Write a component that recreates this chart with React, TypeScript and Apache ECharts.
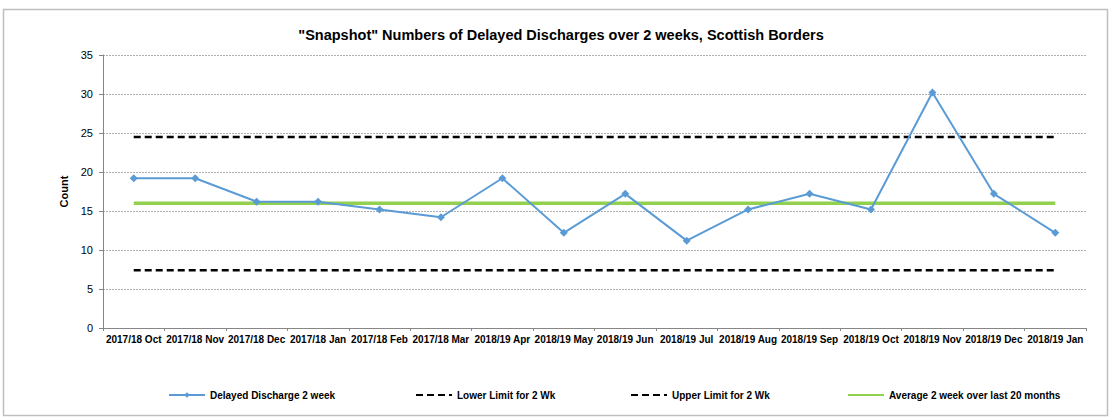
import React, { useEffect, useRef } from "react";
import * as echarts from "echarts";

const categories = [
  "2017/18 Oct", "2017/18 Nov", "2017/18 Dec", "2017/18 Jan", "2017/18 Feb", "2017/18 Mar",
  "2018/19 Apr", "2018/19 May", "2018/19 Jun", "2018/19 Jul", "2018/19 Aug", "2018/19 Sep",
  "2018/19 Oct", "2018/19 Nov", "2018/19 Dec", "2018/19 Jan",
];
const delayed = [19.2, 19.2, 16.2, 16.2, 15.2, 14.2, 19.2, 12.2, 17.2, 11.2, 15.2, 17.2, 15.2, 30.2, 17.2, 12.2];
const lowerLimit = categories.map(() => 7.4);
const upperLimit = categories.map(() => 24.5);
const average = categories.map(() => 16);
const seriesNames = [
  "Delayed Discharge 2 week",
  "Lower Limit for 2 Wk",
  "Upper Limit for 2 Wk",
  "Average 2 week over last 20 months",
];

const FONT = "'Liberation Sans', Arial, sans-serif";

export default function App() {
  const ref = useRef<HTMLDivElement>(null);
  useEffect(() => {
    document.body.style.margin = "0";
    const chart = echarts.init(ref.current!, null, { renderer: "svg" });
    const legendPos = [163, 410, 625, 842];
    chart.setOption({
      animation: false,
      backgroundColor: "#ffffff",
      textStyle: { fontFamily: FONT },
      title: {
        text: '"Snapshot" Numbers of Delayed Discharges over 2 weeks, Scottish Borders',
        left: 556,
        textAlign: "center",
        top: 22,
        textStyle: { fontFamily: FONT, fontSize: 14.5, fontWeight: "bold", color: "#000" },
      },
      legend: seriesNames.map((n, i) => ({
        data: [n],
        left: legendPos[i],
        top: 385,
        itemWidth: 36,
        itemHeight: i === 0 ? 7 : 10,
        itemGap: 5,
        itemStyle: i === 0 ? {} : { opacity: 0 },
        textStyle: { fontFamily: FONT, fontSize: 10, fontWeight: "bold", color: "#000" },
      })),
      grid: { left: 103, right: 23, top: 55, bottom: 89, containLabel: false },
      xAxis: {
        type: "category",
        data: categories,
        boundaryGap: true,
        axisLine: { lineStyle: { color: "#868686", width: 1 } },
        axisTick: { show: true, alignWithLabel: false, length: 3, lineStyle: { color: "#868686" } },
        axisLabel: {
          interval: 0,
          fontFamily: FONT,
          fontSize: 10,
          fontWeight: "bold",
          color: "#000",
          margin: 6,
        },
      },
      yAxis: {
        type: "value",
        min: 0,
        max: 35,
        interval: 5,
        name: "Count",
        nameLocation: "middle",
        nameGap: 27,
        nameTextStyle: { fontFamily: FONT, fontSize: 11, fontWeight: "bold", color: "#000" },
        axisLine: { show: true, lineStyle: { color: "#868686", width: 1 } },
        axisTick: { show: true, length: 4, lineStyle: { color: "#868686" } },
        axisLabel: { fontFamily: FONT, fontSize: 11, color: "#000", margin: 10 },
        splitLine: { show: true, lineStyle: { color: "#b0b0b0", type: [2, 1], width: 1 } },
      },
      series: [
        {
          name: seriesNames[0],
          type: "line",
          data: delayed,
          symbol: "diamond",
          symbolSize: 8,
          lineStyle: { color: "#5b9bd5", width: 2 },
          itemStyle: { color: "#5b9bd5" },
          z: 5,
        },
        {
          name: seriesNames[1],
          type: "line",
          data: lowerLimit,
          symbol: "none",
          lineStyle: { color: "#000", width: 2.5, type: [7, 4] },
          itemStyle: { color: "#000" },
        },
        {
          name: seriesNames[2],
          type: "line",
          data: upperLimit,
          symbol: "none",
          lineStyle: { color: "#000", width: 2.5, type: [7, 4] },
          itemStyle: { color: "#000" },
        },
        {
          name: seriesNames[3],
          type: "line",
          data: average,
          symbol: "none",
          lineStyle: { color: "#92d050", width: 3.5 },
          itemStyle: { color: "#92d050" },
          z: 3,
        },
      ],
      graphic: [
        {
          type: "rect",
          shape: { x: 3.5, y: 9.5, width: 1104, height: 406 },
          style: { fill: "none", stroke: "#bfbfbf", lineWidth: 1.5 },
          silent: true,
        },
      ],
    });
    return () => chart.dispose();
  }, []);
  return <div ref={ref} style={{ width: 1109, height: 417 }} />;
}
